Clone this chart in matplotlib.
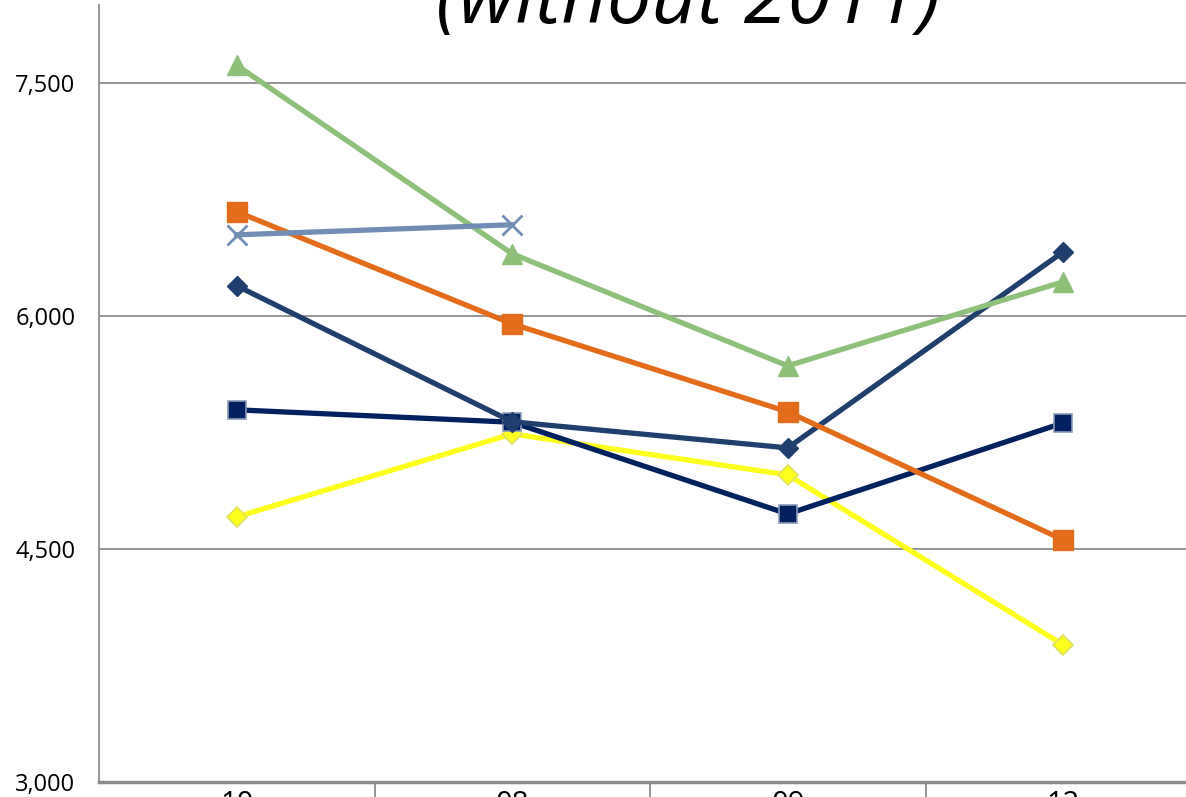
import matplotlib.pyplot as plt
from matplotlib.ticker import FuncFormatter, MultipleLocator

categories = ["10", "08", "09", "12"]

yellow_vals = [4706, 5240, 4976, 3882]
navy_vals = [5395, 5315, 4725, 5311]
darkblue_vals = [6193, 5318, 5150, 6412]
orange_vals = [6670, 5948, 5382, 4558]
green_vals = [7612, 6399, 5678, 6219]
lightblue_vals = [6521, 6586]

plt.rcParams["font.family"] = ["Open Sans", "DejaVu Sans"]

fig = plt.figure(figsize=(11.86, 7.97), dpi=100)
ax = fig.add_axes([99 / 1186, 15 / 797, 1102 / 1186, 777 / 797])

x = list(range(len(categories)))

ax.plot(x, yellow_vals, color="#FFFF1E", lw=3.8, marker="D", ms=10,
        mfc="#FFFF1E", mec="#E0E060", mew=1.2, zorder=3)
ax.plot(x, navy_vals, color="#002060", lw=3.8, marker="s", ms=13,
        mfc="#002060", mec="#8A9AB8", mew=1.2, zorder=4)
ax.plot(x, darkblue_vals, color="#1F3F6E", lw=3.8, marker="D", ms=10,
        mfc="#1F3F6E", mec="#1F3F6E", zorder=5)
ax.plot(x, orange_vals, color="#E36C1A", lw=3.8, marker="s", ms=14,
        mfc="#E36C1A", mec="#E36C1A", zorder=6)
ax.plot(x, green_vals, color="#8DC17A", lw=3.8, marker="^", ms=15,
        mfc="#8DC17A", mec="#8DC17A", zorder=7)
ax.plot(x[:2], lightblue_vals, color="#6F8DB5", lw=3.8, marker="x", ms=14,
        mew=2, zorder=8)

ax.set_xlim(-0.5, len(categories) - 0.5)
ax.set_ylim(3000, 8000)
ax.yaxis.set_major_locator(MultipleLocator(1500))
ax.yaxis.set_major_formatter(FuncFormatter(lambda v, p: f"{int(v):,}"))
ax.grid(axis="y", color="#8C8C8C", lw=1.3, zorder=1)

ax.set_xticks(x)
ax.set_xticklabels(categories, fontsize=21)
ax.set_xticks([i + 0.5 for i in x[:-1]], minor=True)
ax.tick_params(axis="x", which="major", length=0, pad=6)
ax.tick_params(axis="x", which="minor", length=14, color="#8C8C8C", width=1.3, direction="out")
ax.tick_params(axis="y", length=0, labelsize=17, pad=17)

for s in ["top", "right"]:
    ax.spines[s].set_visible(False)
ax.spines["left"].set_color("#8C8C8C")
ax.spines["left"].set_linewidth(1.3)
ax.spines["bottom"].set_color("#8C8C8C")
ax.spines["bottom"].set_linewidth(2.5)

fig.text(688 / 1186, 1 - 23 / 797, "(without 2011)", ha="center", va="baseline",
         fontsize=57, style="italic")

fig.savefig("out.png", dpi=100)
